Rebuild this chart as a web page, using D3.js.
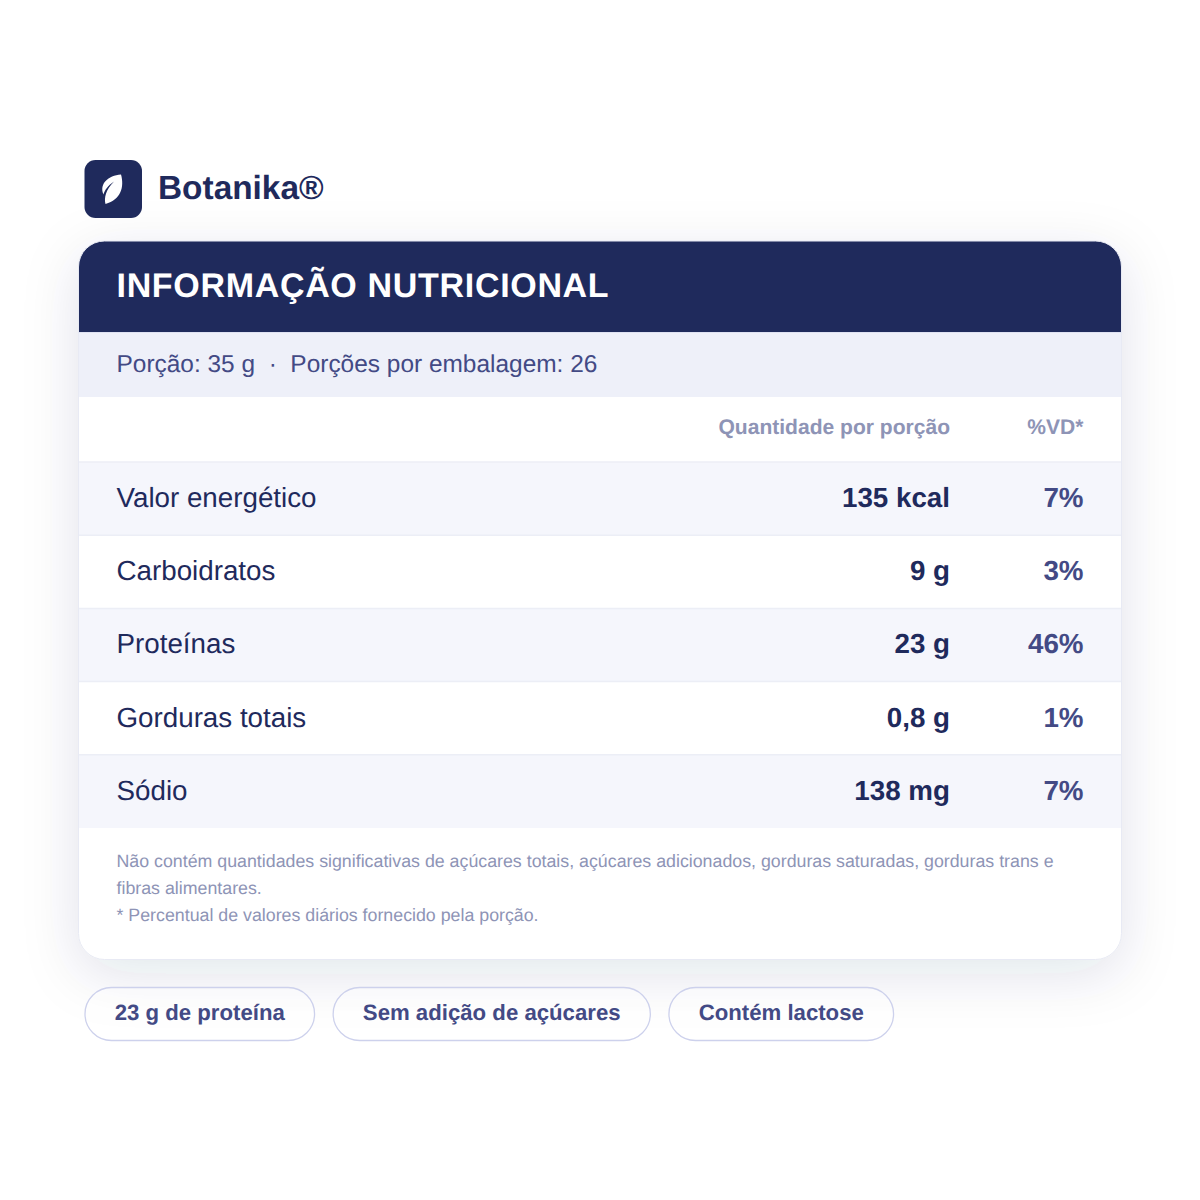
<!DOCTYPE html>
<html>
<head>
<meta charset="utf-8">
<script src="https://cdn.jsdelivr.net/npm/d3@7"></script>
<style>
html, body { margin: 0; padding: 0; background: #fff; }
svg { display: block; }
text { font-family: "Liberation Sans", Arial, sans-serif; text-rendering: geometricPrecision; }
</style>
</head>
<body>
<svg id="chart" width="1200" height="1200"></svg>
<script>
// valores da tabela
const nutrients = ["Valor energético", "Carboidratos", "Proteínas", "Gorduras totais", "Sódio"];
const amounts = ["135 kcal", "9 g", "23 g", "0,8 g", "138 mg"];
const dailyValues = ["7%", "3%", "46%", "1%", "7%"];
const footnotes = [
    "Não contém quantidades significativas de açúcares totais, açúcares adicionados, gorduras saturadas, gorduras trans e",
    "fibras alimentares.",
    "* Percentual de valores diários fornecido pela porção."
];
const chips = ["23 g de proteína", "Sem adição de açúcares", "Contém lactose"];

const navy = "#1f2a5c";
const indigo = "#434a85";
const muted = "#8e94b6";

const svg = d3.select("#chart");
const card = { x: 78.5, y: 241, w: 1043, h: 718.5, r: 26 };
const padLeft = 116.5, amountX = 950, dvX = 1083.5;

// sombra do cartão
const defs = svg.append("defs");
const shadow = defs.append("filter").attr("id", "cardShadow")
    .attr("x", "-15%").attr("y", "-15%").attr("width", "130%").attr("height", "130%");
shadow.append("feDropShadow")
    .attr("dx", 0).attr("dy", 14).attr("stdDeviation", 28)
    .attr("flood-color", navy).attr("flood-opacity", 0.12);
defs.append("clipPath").attr("id", "cardClip").append("rect")
    .attr("x", card.x).attr("y", card.y).attr("width", card.w).attr("height", card.h).attr("rx", card.r);

// cartão
svg.append("rect").attr("x", card.x).attr("y", card.y).attr("width", card.w).attr("height", card.h).attr("rx", card.r)
    .attr("fill", "#fff").attr("filter", "url(#cardShadow)");

// logo
svg.append("rect").attr("x", 84.5).attr("y", 160).attr("width", 57.5).attr("height", 58).attr("rx", 11).attr("fill", navy);
svg.append("path")
    .attr("d", "M121 174.5 C124.5 187 121 199.5 105.5 204 C104 198 105.5 190 114 181.5 C107.5 186 104.5 190.5 103.5 194.5 C99 184 108 175.5 121 174.5 Z")
    .attr("fill", "#fff");
svg.append("text").attr("x", 158).attr("y", 199).attr("font-size", 33.4).attr("font-weight", 700)
    .attr("fill", navy).text("Botanika®");

const body = svg.append("g").attr("clip-path", "url(#cardClip)");
body.append("rect").attr("x", card.x).attr("y", card.y).attr("width", card.w).attr("height", 91).attr("fill", navy);
body.append("rect").attr("x", card.x).attr("y", 332).attr("width", card.w).attr("height", 65).attr("fill", "#eef0f9");

svg.append("text").attr("x", padLeft).attr("y", 297).attr("font-size", 34).attr("font-weight", 700)
    .attr("letter-spacing", 0.68).attr("fill", "#fff").text("INFORMAÇÃO NUTRICIONAL");
svg.append("text").attr("x", padLeft).attr("y", 372).attr("font-size", 24.45).attr("fill", indigo)
    .attr("xml:space", "preserve").text("Porção: 35 g  ·  Porções por embalagem: 26");

// cabeçalho das colunas
svg.append("text").attr("x", amountX).attr("y", 434).attr("text-anchor", "end").attr("font-size", 21.05)
    .attr("font-weight", 700).attr("fill", muted).text("Quantidade por porção");
svg.append("text").attr("x", dvX).attr("y", 434).attr("text-anchor", "end").attr("font-size", 21.05)
    .attr("font-weight", 700).attr("fill", muted).text("%VD*");

// linhas da tabela
const rowScale = d3.scaleBand().domain(nutrients).range([462, 828]);
const rows = body.selectAll(".row").data(nutrients).enter().append("g").attr("class", "row")
    .attr("transform", d => `translate(0, ${rowScale(d)})`);
rows.append("rect").attr("x", card.x).attr("width", card.w).attr("height", rowScale.bandwidth())
    .attr("fill", (d, i) => i % 2 === 0 ? "#f5f6fc" : "#fff");
rows.append("line").attr("x1", card.x).attr("x2", card.x + card.w).attr("y1", 0).attr("y2", 0)
    .attr("stroke", "#eceef6").attr("stroke-width", 1.5);
rows.append("text").attr("x", padLeft).attr("y", 45).attr("font-size", 27.75).attr("fill", navy).text(d => d);
rows.append("text").attr("x", amountX).attr("y", 45).attr("text-anchor", "end").attr("font-size", 27.75)
    .attr("font-weight", 700).attr("fill", navy).text((d, i) => amounts[i]);
rows.append("text").attr("x", dvX).attr("y", 45).attr("text-anchor", "end").attr("font-size", 27.75)
    .attr("font-weight", 700).attr("fill", indigo).text((d, i) => dailyValues[i]);

// borda do cartão
svg.append("rect").attr("x", card.x).attr("y", card.y).attr("width", card.w).attr("height", card.h).attr("rx", card.r)
    .attr("fill", "none").attr("stroke", "#e8eaf4").attr("stroke-width", 1);
svg.append("line").attr("x1", card.x).attr("x2", card.x + card.w).attr("y1", 332.5).attr("y2", 332.5)
    .attr("stroke", "#dfe2f2").attr("stroke-width", 1);

// notas
svg.selectAll(".note").data(footnotes).enter().append("text").attr("class", "note")
    .attr("x", padLeft).attr("y", (d, i) => 867.4 + i * 26.7).attr("font-size", 17.8).attr("fill", muted).text(d => d);

// selos
let chipX = 85;
chips.forEach(label => {
    const g = svg.append("g");
    const rect = g.append("rect").attr("y", 987.5).attr("height", 53).attr("rx", 26.5)
        .attr("fill", "#fff").attr("fill-opacity", 0.35).attr("stroke", "#cdd1ec").attr("stroke-width", 1.3);
    const t = g.append("text").attr("x", chipX + 29.7).attr("y", 1020).attr("font-size", 22.2)
        .attr("font-weight", 700).attr("fill", indigo).text(label);
    const w = t.node().getComputedTextLength() + 59.4;
    rect.attr("x", chipX).attr("width", w);
    chipX += w + 18.6;
});
</script>
</body>
</html>
